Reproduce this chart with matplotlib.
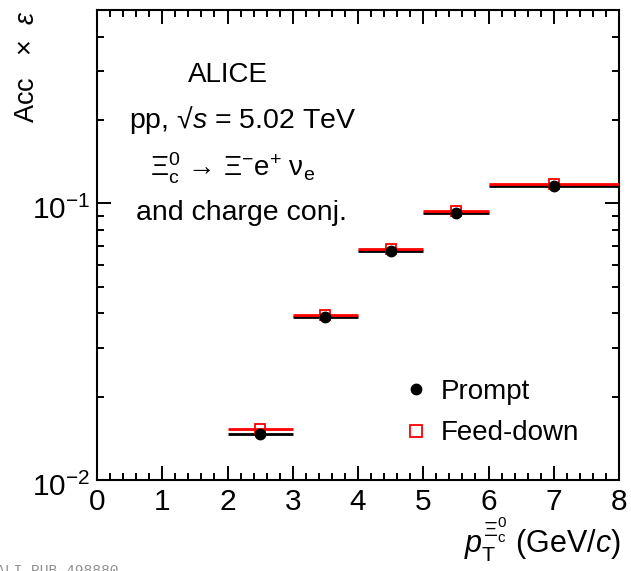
import matplotlib
matplotlib.use("Agg")
import matplotlib.pyplot as plt
from matplotlib.ticker import MultipleLocator, LogLocator, NullFormatter
from matplotlib.lines import Line2D
from matplotlib.transforms import ScaledTranslation

plt.rcParams['font.family'] = ['Liberation Sans', 'DejaVu Sans']
plt.rcParams['mathtext.fontset'] = 'custom'
plt.rcParams['mathtext.rm'] = 'Liberation Sans'
plt.rcParams['mathtext.it'] = 'Liberation Sans:italic'
plt.rcParams['mathtext.bf'] = 'Liberation Sans:bold'
plt.rcParams['mathtext.sf'] = 'Liberation Sans'

# Data
bin_low = [2, 3, 4, 5, 6]
bin_high = [3, 4, 5, 6, 8]
pt_center = [2.5, 3.5, 4.5, 5.5, 7.0]
prompt = [0.01466, 0.0389, 0.0674, 0.0925, 0.1155]
feeddown = [0.01529, 0.0395, 0.0685, 0.0938, 0.1171]

W, H = 631, 571
fig = plt.figure(figsize=(W / 100, H / 100), dpi=100)
ax = fig.add_axes([97 / W, 1 - 480 / H, (619 - 97) / W, (480 - 10) / H])

xerr_lo = [c - l for c, l in zip(pt_center, bin_low)]
xerr_hi = [h - c for c, h in zip(pt_center, bin_high)]

# horizontal bin-width lines
ax.errorbar(pt_center, prompt, xerr=[xerr_lo, xerr_hi], fmt='none',
            ecolor='black', elinewidth=2.0, capsize=0, zorder=2)
ax.errorbar(pt_center, feeddown, xerr=[xerr_lo, xerr_hi], fmt='none',
            ecolor='#ff0000', elinewidth=2.0, capsize=0, zorder=3)
ax.plot(pt_center, feeddown, ls='none', marker='s', ms=7.5, mfc='none',
        mec='#ff0000', mew=1.3, zorder=4)
ax.plot(pt_center, prompt, ls='none', marker='o', ms=7.5, color='black', zorder=5)

ax.set_yscale('log')
ax.set_xlim(0, 8)
ax.set_ylim(0.01, 0.5)

ax.xaxis.set_major_locator(MultipleLocator(1))
ax.xaxis.set_minor_locator(MultipleLocator(0.2))
ax.yaxis.set_major_locator(LogLocator(base=10, numticks=10))
ax.yaxis.set_minor_locator(LogLocator(base=10, subs=range(2, 10), numticks=10))
ax.yaxis.set_minor_formatter(NullFormatter())

ax.tick_params(which='both', direction='in', top=True, right=True,
               width=1.4, labelsize=21.5)
ax.tick_params(axis='x', which='both', pad=6)
ax.tick_params(axis='y', which='both', pad=5)
ax.tick_params(which='major', length=10)
ax.tick_params(which='minor', length=5)
for s in ax.spines.values():
    s.set_linewidth(1.5)

# shift y tick labels slightly down (as in reference)
for tk in ax.yaxis.get_major_ticks():
    tk.label1.set_transform(tk.label1.get_transform() +
                            ScaledTranslation(0, -4 / 100, fig.dpi_scale_trans))

# y label and x label
fig.text(27 / W, 1 - 10 / H, r'Acc   ×  $\varepsilon$', rotation=90,
         ha='center', va='top', fontsize=19.5)
fig.text(621 / W, 1 - 553 / H, r'$p_{\mathrm{T}}^{\Xi_{\mathrm{c}}^{0}}$ (GeV/$c$)',
         ha='right', va='baseline', fontsize=22)

# annotations
fig.text(228 / W, 1 - 75 / H, 'ALICE', ha='center', va='center', fontsize=20)
fig.text(243 / W, 1 - 120 / H, r'pp, √$s$ = 5.02 TeV', ha='center', va='center', fontsize=20.5)
fig.text(233 / W, 1 - 168 / H,
         r'$\mathregular{\Xi_{c}^{0}}$ → $\mathregular{\Xi^{-}}$e$^{+}$ ν$_{\mathregular{e}}$',
         ha='center', va='center', fontsize=20)
fig.text(241 / W, 1 - 213 / H, 'and charge conj.', ha='center', va='center', fontsize=20.5)

# legend
handles = [
    Line2D([], [], ls='none', marker='o', ms=7.5, color='black'),
    Line2D([], [], ls='none', marker='s', ms=8, mfc='none', mec='#ff0000', mew=1.3),
]
fig.legend(handles, ['Prompt', 'Feed-down'], loc='upper left',
           bbox_to_anchor=(402 / W, 1 - 379 / H), frameon=False, fontsize=20,
           handlelength=1.0, handletextpad=0.4, borderpad=0, borderaxespad=0,
           labelspacing=0.55, numpoints=1)

# watermark
fig.text(-4 / W, 1 - 564 / H, 'ALI-PUB-498880', ha='left', va='top',
         fontsize=10.5, color='#909090', family='Liberation Mono')

fig.savefig('out.png', dpi=100)
